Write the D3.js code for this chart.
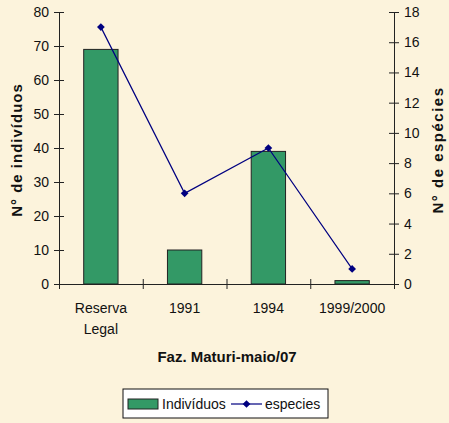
<!DOCTYPE html>
<html>
<head>
<meta charset="utf-8">
<script src="https://cdn.jsdelivr.net/npm/d3@7"></script>
<style>
  body { margin: 0; background: #fcf3dc; }
  svg text { font-family: "Liberation Sans", Arial, sans-serif; fill: #111; }
</style>
</head>
<body>
<div id="chart"></div>
<script>
// Data
var categories = [["Reserva", "Legal"], ["1991"], ["1994"], ["1999/2000"]];
var individuos = [69, 10, 39, 1];
var especies   = [17, 6, 9, 1];
var leftTicks  = [0, 10, 20, 30, 40, 50, 60, 70, 80];
var rightTicks = [0, 2, 4, 6, 8, 10, 12, 14, 16, 18];

var W = 449, H = 423;
var margin = {top: 12, right: 55, bottom: 139, left: 59};
var width  = W - margin.left - margin.right;
var height = H - margin.top - margin.bottom;
var FONT = "'Liberation Sans', Arial, sans-serif";

var svg = d3.select("#chart").append("svg")
    .attr("width", W)
    .attr("height", H);

svg.append("rect").attr("width", W).attr("height", H).attr("fill", "#fcf3dc");

var g = svg.append("g")
    .attr("transform", "translate(" + margin.left + "," + margin.top + ")");

var x = d3.scaleBand()
    .domain(d3.range(categories.length))
    .range([0, width])
    .paddingInner(0.59)
    .paddingOuter(0.295);

var xc = d3.scaleLinear().domain([0, categories.length]).range([0, width]);

var yL = d3.scaleLinear().domain([0, 80]).range([height, 0]);
var yR = d3.scaleLinear().domain([0, 18]).range([height, 0]);

// bars
g.selectAll(".bar").data(individuos).enter().append("rect")
    .attr("x", function(d, i) { return x(i); })
    .attr("y", function(d) { return yL(d); })
    .attr("width", x.bandwidth())
    .attr("height", function(d) { return height - yL(d); })
    .attr("fill", "#339966")
    .attr("stroke", "#222")
    .attr("stroke-width", 1);

// left axis
var axL = g.append("g")
    .call(d3.axisLeft(yL).tickValues(leftTicks).tickSize(5).tickSizeOuter(0));
axL.selectAll(".tick line").attr("x1", 5);
axL.selectAll("text").attr("x", -10);

// right axis
var axR = g.append("g")
    .attr("transform", "translate(" + width + ",0)")
    .call(d3.axisRight(yR).tickValues(rightTicks).tickSize(5).tickSizeOuter(0));
axR.selectAll(".tick line").attr("x1", -5);
axR.selectAll("text").attr("x", 10);

// x axis
var axX = g.append("g")
    .attr("transform", "translate(0," + height + ")")
    .call(d3.axisBottom(xc).tickValues(d3.range(categories.length + 1)).tickSize(5).tickSizeOuter(0).tickFormat(""));
axX.selectAll(".tick line").attr("y1", -5);

[axL, axR, axX].forEach(function(a) {
  a.attr("font-family", FONT).attr("font-size", 14);
  a.select(".domain").attr("stroke", "#222");
  a.selectAll(".tick line").attr("stroke", "#222");
  a.selectAll("text").attr("fill", "#111");
});

// category labels
var cl = g.append("g").selectAll("text").data(categories).enter().append("text")
    .attr("text-anchor", "middle")
    .attr("x", function(d, i) { return x(i) + x.bandwidth() / 2; })
    .attr("y", height + 29)
    .style("font-size", "14px");
cl.selectAll("tspan").data(function(d) { return d; }).enter().append("tspan")
    .attr("x", function() { return d3.select(this.parentNode).attr("x"); })
    .attr("dy", function(d, i) { return i === 0 ? 0 : 21; })
    .text(function(d) { return d; });

// line
var line = d3.line()
    .x(function(d, i) { return x(i) + x.bandwidth() / 2; })
    .y(function(d) { return yR(d); });

g.append("path").datum(especies)
    .attr("d", line)
    .attr("fill", "none")
    .attr("stroke", "#000080")
    .attr("stroke-width", 1.2);

var diamond = d3.symbol().type(d3.symbolSquare).size(30);
g.selectAll(".pt").data(especies).enter().append("path")
    .attr("d", diamond)
    .attr("transform", function(d, i) { return "translate(" + (x(i) + x.bandwidth() / 2) + "," + yR(d) + ") rotate(45)"; })
    .attr("fill", "#000080");

// axis titles
svg.append("text")
    .attr("transform", "translate(22,150) rotate(-90)")
    .attr("text-anchor", "middle")
    .style("font-size", "15px")
    .style("font-weight", "bold")
    .style("letter-spacing", "1px")
    .text("N° de indivíduos");

svg.append("text")
    .attr("transform", "translate(443,150) rotate(-90)")
    .attr("text-anchor", "middle")
    .style("font-size", "15px")
    .style("font-weight", "bold")
    .style("letter-spacing", "1.5px")
    .text("N° de espécies");

svg.append("text")
    .attr("x", 227)
    .attr("y", 362)
    .attr("text-anchor", "middle")
    .style("font-size", "15px")
    .style("font-weight", "bold")
    .text("Faz. Maturi-maio/07");

// legend
var lg = svg.append("g").attr("transform", "translate(123,389)");
lg.append("rect").attr("width", 205).attr("height", 29)
    .attr("fill", "#fff").attr("stroke", "#111");
lg.append("rect").attr("x", 5).attr("y", 10).attr("width", 30).attr("height", 10)
    .attr("fill", "#339966").attr("stroke", "#222");
lg.append("text").attr("x", 39).attr("y", 20).style("font-size", "14px").text("Indivíduos");
lg.append("line").attr("x1", 108).attr("x2", 139).attr("y1", 15).attr("y2", 15)
    .attr("stroke", "#000080").attr("stroke-width", 1.2);
lg.append("path").attr("d", diamond).attr("transform", "translate(123.5,15) rotate(45)").attr("fill", "#000080");
lg.append("text").attr("x", 142).attr("y", 20).style("font-size", "14px").text("especies");
</script>
</body>
</html>
